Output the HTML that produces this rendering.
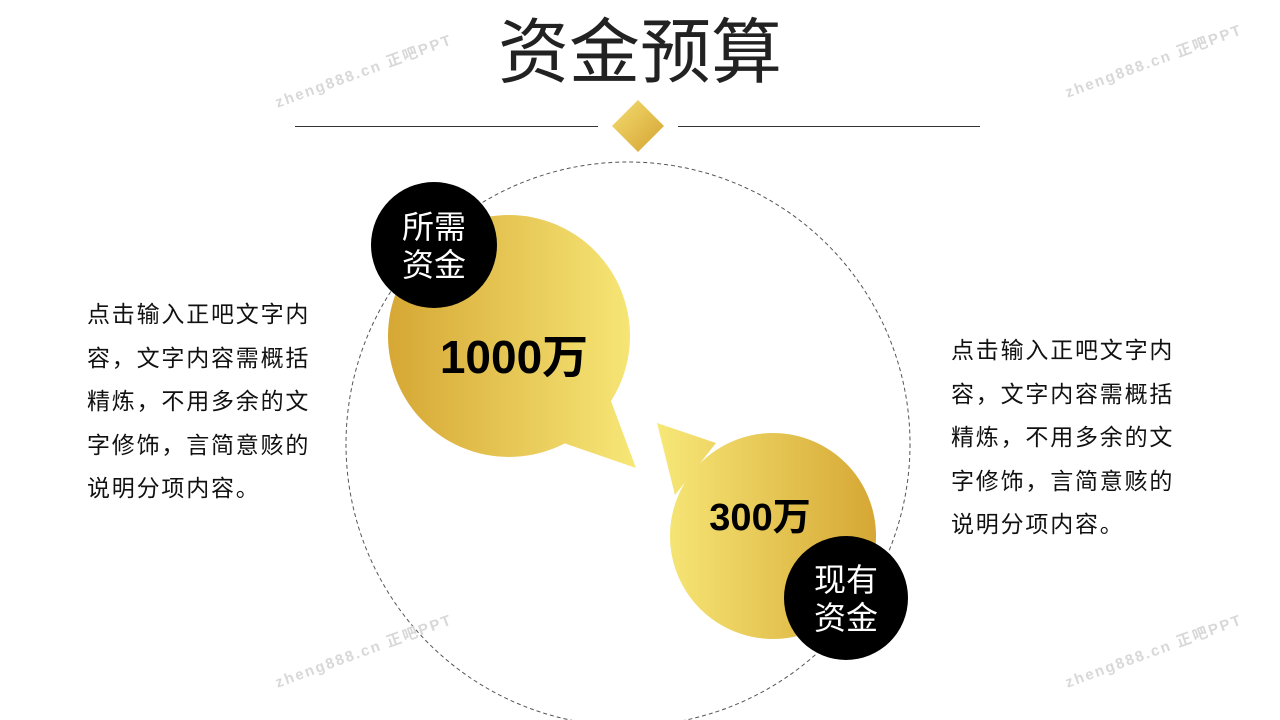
<!DOCTYPE html>
<html><head><meta charset="utf-8"><style>
body{margin:0;width:1280px;height:720px;background:#fff;overflow:hidden;position:relative;font-family:"Liberation Sans","Noto Sans CJK SC",sans-serif}
.t{position:absolute;font-size:23px;letter-spacing:1.8px;line-height:43.5px;color:#111;white-space:nowrap}
.wm{position:absolute;color:#d8d8d8;font-size:15px;font-weight:bold;transform:rotate(-20deg);letter-spacing:2px;white-space:nowrap}
</style></head><body>
<svg width="1280" height="720" style="position:absolute;left:0;top:0">
<defs>
<linearGradient id="g1" gradientUnits="userSpaceOnUse" x1="388" x2="640" y1="0" y2="0"><stop offset="0" stop-color="#d6a734"/><stop offset="1" stop-color="#f7e878"/></linearGradient>
<linearGradient id="g2" gradientUnits="userSpaceOnUse" x1="657" x2="876" y1="0" y2="0"><stop offset="0" stop-color="#f7e878"/><stop offset="1" stop-color="#d6a734"/></linearGradient>
<linearGradient id="gd" x1="0" x2="1" y1="0" y2="1"><stop offset="0" stop-color="#f5dd70"/><stop offset="1" stop-color="#d3a232"/></linearGradient>
</defs>
<line x1="295" y1="126.5" x2="598" y2="126.5" stroke="#333" stroke-width="1"/>
<line x1="678" y1="126.5" x2="980" y2="126.5" stroke="#333" stroke-width="1"/>
<polygon points="638,100 664,126 638,152 612,126" fill="url(#gd)"/>
<circle cx="628" cy="444" r="282" fill="none" stroke="#555" stroke-width="1" stroke-dasharray="4,3"/>
<g fill="url(#g1)"><circle cx="509" cy="336" r="121"/><polygon points="605,385 636,468 555,440"/></g>
<g fill="url(#g2)"><circle cx="773" cy="536" r="103"/><polygon points="657,423 716,443 675,495"/></g>
<circle cx="434" cy="245" r="63" fill="#000"/>
<circle cx="846" cy="598" r="62" fill="#000"/>
</svg>
<div style="position:absolute;left:440px;top:12px;width:400px;text-align:center;font-size:71px;line-height:84px;color:#222">资金预算</div>
<div style="position:absolute;left:384px;top:208px;width:100px;text-align:center;color:#fff;font-size:32px;line-height:38px">所需<br>资金</div>
<div style="position:absolute;left:796px;top:561px;width:100px;text-align:center;color:#fff;font-size:32px;line-height:38px">现有<br>资金</div>
<div style="position:absolute;left:414px;top:330px;width:200px;text-align:center;font-size:46px;font-weight:bold;line-height:54px;color:#000">1000万</div>
<div style="position:absolute;left:680px;top:494px;width:160px;text-align:center;font-size:38px;font-weight:bold;line-height:48px;color:#000">300万</div>
<div class="t" style="left:87px;top:293px">点击输入正吧文字内<br>容，文字内容需概括<br>精炼，不用多余的文<br>字修饰，言简意赅的<br>说明分项内容。</div>
<div class="t" style="left:951px;top:329px">点击输入正吧文字内<br>容，文字内容需概括<br>精炼，不用多余的文<br>字修饰，言简意赅的<br>说明分项内容。</div>
<div class="wm" style="left:270px;top:60px">zheng888.cn 正吧PPT</div>
<div class="wm" style="left:1060px;top:50px">zheng888.cn 正吧PPT</div>
<div class="wm" style="left:270px;top:640px">zheng888.cn 正吧PPT</div>
<div class="wm" style="left:1060px;top:640px">zheng888.cn 正吧PPT</div>
</body></html>
